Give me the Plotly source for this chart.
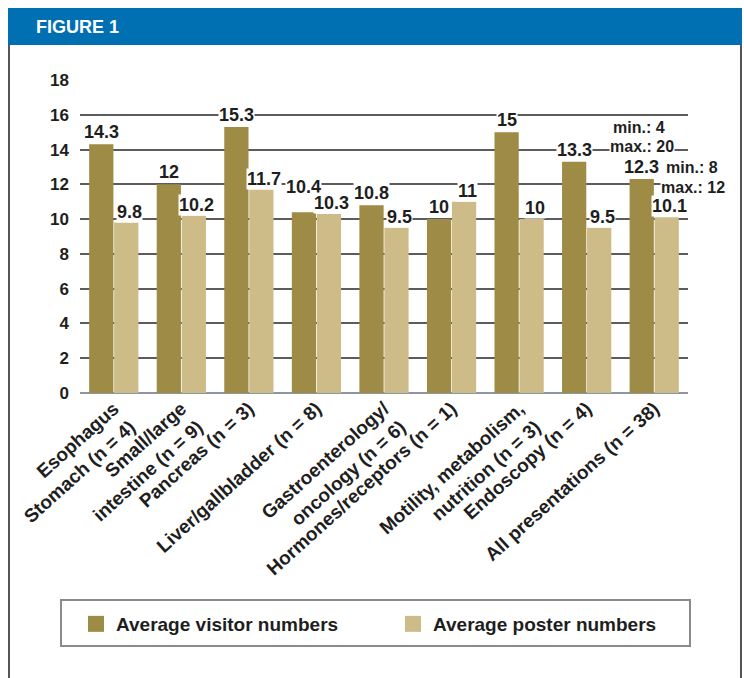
import plotly.graph_objects as go

# ---------------- data ----------------
categories = [
    "Esophagus<br>Stomach (n = 4)",
    "Small/large<br>intestine (n = 9)",
    "Pancreas (n = 3)",
    "Liver/gallbladder (n = 8)",
    "Gastroenterology/<br>oncology (n = 6)",
    "Hormones/receptors (n = 1)",
    "Motility, metabolism,<br>nutrition (n = 3)",
    "Endoscopy (n = 4)",
    "All presentations (n = 38)",
]
visitor_numbers = [14.3, 12, 15.3, 10.4, 10.8, 10, 15, 13.3, 12.3]
poster_numbers = [9.8, 10.2, 11.7, 10.3, 9.5, 11, 10, 9.5, 10.1]
visitor_range_all = [4, 20]   # min, max for "All presentations"
poster_range_all = [8, 12]
y_ticks = [0, 2, 4, 6, 8, 10, 12, 14, 16, 18]
series_names = ["Average visitor numbers", "Average poster numbers"]

# ---------------- style ----------------
W, H = 744, 678
L, R, T, B = 80, 56, 80, 285
PW, PH = W - L - R, H - T - B
C_VIS = "#9E8B46"
C_POS = "#CEBC88"
TXT = "#1e1e1e"
FONT = "Liberation Sans, Arial, sans-serif"


def px_x(px):
    return (px - L) / PW


def px_y(py):
    return (H - B - py) / PH


fig = go.Figure()
fig.add_trace(go.Bar(x=categories, y=visitor_numbers, name=series_names[0], showlegend=False,
                     marker=dict(color=C_VIS, line=dict(width=0))))
fig.add_trace(go.Bar(x=categories, y=poster_numbers, name=series_names[1], showlegend=False,
                     marker=dict(color=C_POS, line=dict(width=0))))
# legend entries (square swatches like the original key)
for nm, col in zip(series_names, [C_VIS, C_POS]):
    fig.add_trace(go.Scatter(x=[None], y=[None], mode="markers", name=nm,
                             marker=dict(symbol="square", size=16, color=col)))

bargap = 0.26
cat_px = PW / len(categories)
half = (1 - bargap) / 2 * cat_px / 2

ann = []
lab_font = dict(family=FONT, size=18, color=TXT, weight="bold")
note_font = dict(family=FONT, size=16, color=TXT, weight="bold")


def label(c, y, text, xshift, yshift, font=lab_font):
    return dict(x=c, y=y, xref="x", yref="y", text=text, showarrow=False,
                xshift=xshift, yshift=yshift, yanchor="middle", bgcolor="white",
                borderpad=0, font=font)


for c, v, p in zip(categories, visitor_numbers, poster_numbers):
    close = abs(v - p) < 0.5
    ann.append(label(c, v, f"{v:g}", -half, 25 if close else 12))
    ann.append(label(c, p, f"{p:g}", half + 3, 11))

# min / max notes for "All presentations"
ann.append(label(categories[-1], visitor_numbers[-1], f"min.: {visitor_range_all[0]}",
                 -half - 3, 52, note_font))
ann.append(label(categories[-1], visitor_numbers[-1], f"max.: {visitor_range_all[1]}",
                 -half, 33, note_font))
ann.append(label(categories[-1], poster_numbers[-1], f"min.: {poster_range_all[0]}",
                 half + 25, 50, note_font))
ann.append(label(categories[-1], poster_numbers[-1], f"max.: {poster_range_all[1]}",
                 half + 26, 30, note_font))

ann.append(dict(x=px_x(34), y=px_y(27), xref="paper", yref="paper", text="FIGURE 1",
                showarrow=False, xanchor="left", yanchor="middle",
                font=dict(family=FONT, size=18, color="white", weight="bold")))

shapes = [
    dict(type="rect", xref="paper", yref="paper", x0=px_x(8), x1=px_x(742),
         y0=px_y(45), y1=px_y(8), fillcolor="#0070B2", line=dict(width=0)),
    dict(type="line", xref="paper", yref="paper", x0=px_x(9), x1=px_x(9),
         y0=px_y(45), y1=px_y(678), line=dict(color="#555555", width=2)),
    dict(type="line", xref="paper", yref="paper", x0=px_x(741), x1=px_x(741),
         y0=px_y(45), y1=px_y(678), line=dict(color="#555555", width=2)),
    dict(type="rect", xref="paper", yref="paper", x0=px_x(61), x1=px_x(690),
         y0=px_y(646), y1=px_y(600), line=dict(color="#8a8a8a", width=2),
         fillcolor="rgba(0,0,0,0)"),
]

fig.update_layout(
    width=W, height=H, autosize=False,
    margin=dict(l=L, r=R, t=T, b=B, pad=0, autoexpand=False),
    paper_bgcolor="white", plot_bgcolor="white",
    barmode="group", bargap=bargap, bargroupgap=0.03,
    showlegend=True,
    legend=dict(orientation="h", x=px_x(76), xanchor="left", y=px_y(624), yanchor="middle",
                bgcolor="rgba(0,0,0,0)", borderwidth=0,
                font=dict(family=FONT, size=19, color=TXT, weight="bold"),
                entrywidth=272, entrywidthmode="pixels", traceorder="normal"),
    annotations=ann,
    shapes=shapes,
    font=dict(family=FONT, color=TXT),
)
fig.update_yaxes(range=[0, 18], tickvals=y_ticks, showgrid=True, gridcolor="#5c5c5c",
                 gridwidth=1.5, zeroline=True, zerolinecolor="#8d97a2", zerolinewidth=2,
                 ticks="", ticklabelstandoff=10, showline=False, automargin=False,
                 tickfont=dict(family=FONT, size=17, color=TXT, weight="bold"))
fig.update_xaxes(type="category", tickangle=-42, showgrid=False, ticks="", showline=False,
                 automargin=False, range=[-0.5, len(categories) - 0.5],
                 tickfont=dict(family=FONT, size=19, color=TXT, weight="bold"))

fig.write_html("out.html")
